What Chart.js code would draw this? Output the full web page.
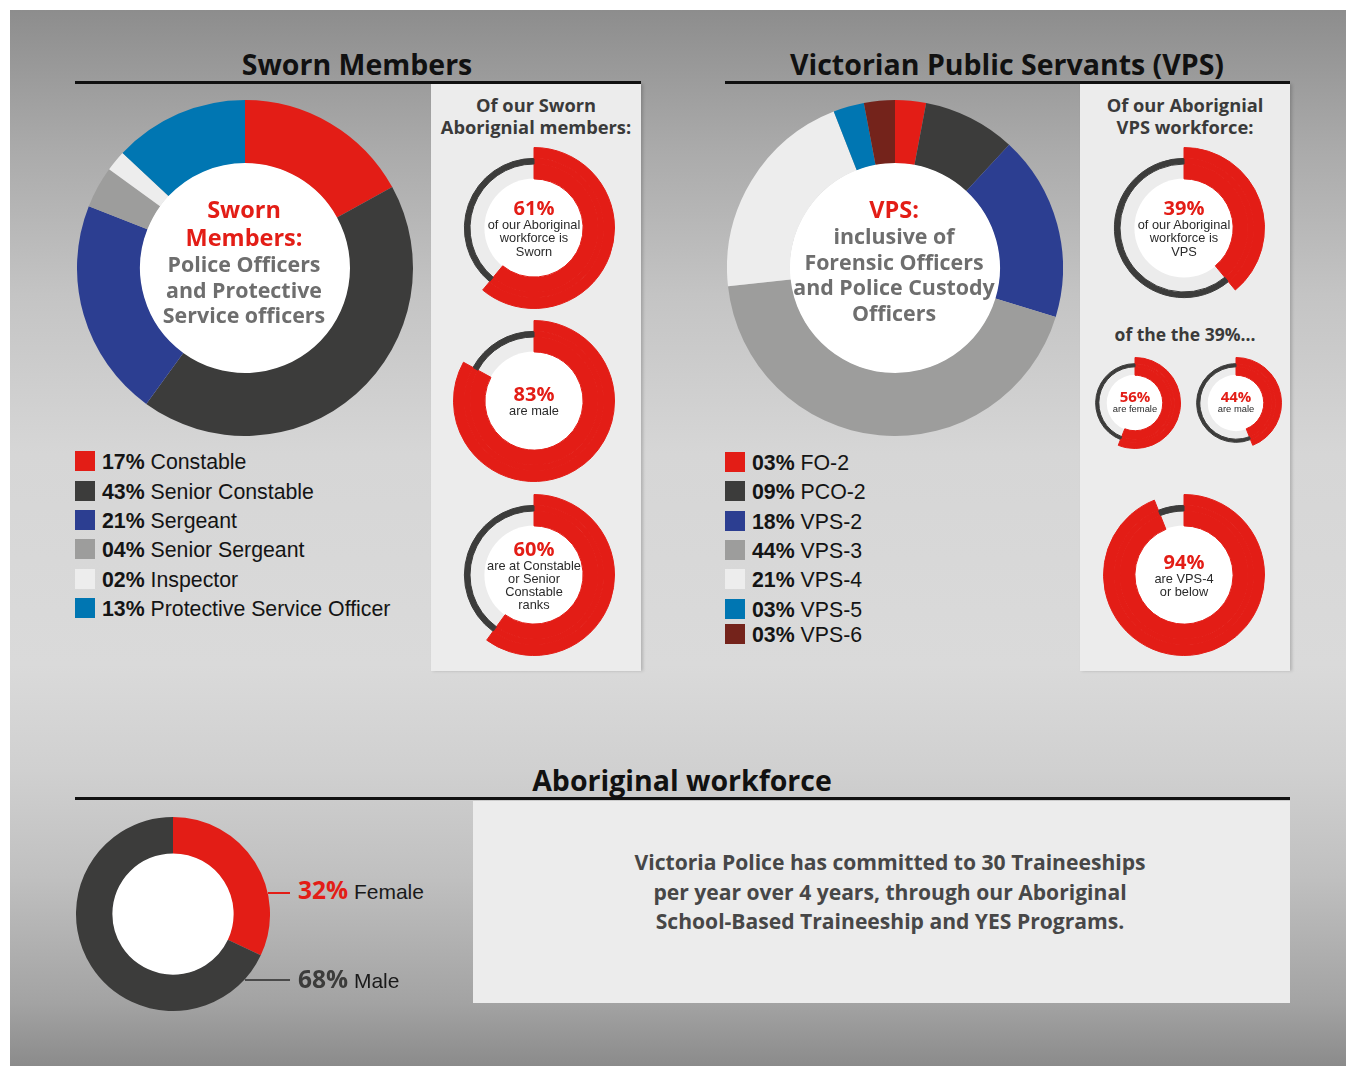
<!DOCTYPE html>
<html><head><meta charset="utf-8">
<script src="https://cdn.jsdelivr.net/npm/chart.js@4.4.1/dist/chart.umd.min.js"></script>
<style>
html,body{margin:0;padding:0;background:#fff;}
body{width:1346px;height:1066px;position:relative;overflow:hidden;font-family:"Liberation Sans",Arial,sans-serif;}
#bg{position:absolute;left:10px;top:10px;width:1336px;height:1056px;
 background:linear-gradient(to bottom,#8d8d8d 0%,#aaaaaa 13%,#c4c4c4 27%,#d6d6d6 42%,#dadada 62%,#d0d0d0 72%,#c0c0c0 82%,#a3a3a3 94%,#8b8b8b 100%);}
.title{position:absolute;font-family:"Open Sans";font-weight:700;font-size:28.5px;line-height:34px;color:#111;text-align:center;white-space:nowrap;}
.rule{position:absolute;height:3px;background:#111;}
.panel{position:absolute;background:#ececec;}
.side{box-shadow:2px 0 3px rgba(0,0,0,0.18);}
.phead{position:absolute;font-family:"Open Sans";font-weight:700;font-size:18.3px;line-height:22px;color:#3a3a3a;text-align:center;white-space:nowrap;}
canvas{position:absolute;}
.center{position:absolute;text-align:center;white-space:nowrap;font-family:"Open Sans";font-weight:700;}
.center .r{color:#e31d16;font-size:23.5px;line-height:28px;}
.center .g{color:#6e6e6e;font-size:21.4px;line-height:25.6px;}
.ringtxt{position:absolute;display:flex;flex-direction:column;justify-content:center;align-items:center;white-space:nowrap;text-align:center;}
.ringtxt .p{font-family:"Open Sans";font-weight:700;color:#e31d16;}
.ringtxt .s{color:#2a2a2a;}
.sq{position:absolute;width:20px;height:20px;}
.lg{position:absolute;font-size:21.3px;line-height:26px;color:#141414;white-space:nowrap;}
.lg b{font-weight:700;}
.note{position:absolute;font-family:"Open Sans";font-weight:700;font-size:21.1px;line-height:29.5px;color:#474747;text-align:center;white-space:nowrap;}
.glab{position:absolute;white-space:nowrap;font-size:21px;line-height:28px;color:#1a1a1a;}
.glab .p{font-family:"Open Sans";font-weight:700;font-size:24.5px;}
.lead{position:absolute;height:2px;}
</style>
</head>
<body>
<div id="bg"></div>
<script>
// ---------------- data ----------------
const swornCategories = ['Constable','Senior Constable','Sergeant','Senior Sergeant','Inspector','Protective Service Officer'];
const swornValues = [17, 43, 21, 4, 2, 13];
const vpsCategories = ['FO-2','PCO-2','VPS-2','VPS-3','VPS-4','VPS-5','VPS-6'];
const vpsValues = [3, 9, 18, 44, 21, 3, 3];
const genderCategories = ['Female','Male'];
const genderValues = [32, 68];
const swornAboriginalValues = [61, 83, 60];
const swornAboriginalNotes = [['of our Aboriginal','workforce is','Sworn'],['are male'],['are at Constable','or Senior','Constable','ranks']];
const vpsAboriginalValues = [39, 56, 44, 94];
const vpsAboriginalNotes = [['of our Aboriginal','workforce is','VPS'],['are female'],['are male'],['are VPS-4','or below']];

// ---------------- styles ----------------
const RED='#e31d16', DARK='#3c3c3b', BLUE='#2c3e91', GREY='#9d9d9c', LIGHT='#ededed', TEAL='#0076b2', MAROON='#74231b';
const swornColors = [RED, DARK, BLUE, GREY, LIGHT, TEAL];
const vpsColors = [RED, DARK, BLUE, GREY, LIGHT, TEAL, MAROON];
const genderColors = [RED, DARK];

// ---------------- helpers ----------------
function el(tag, cls, css, html){
  const e=document.createElement(tag);
  if(cls) e.className=cls;
  Object.assign(e.style, css||{});
  if(html!==undefined) e.innerHTML=html;
  document.body.appendChild(e);
  return e;
}
const px=v=>v+'px';
function canvasAt(cx, cy, r){
  const c=document.createElement('canvas');
  c.width=2*r; c.height=2*r;
  c.style.left=px(cx-r); c.style.top=px(cy-r);
  c.style.width=px(2*r); c.style.height=px(2*r);
  document.body.appendChild(c);
  return c;
}
const whiteHole={
  id:'whiteHole',
  beforeDatasetsDraw(chart){
    const n=chart.data.datasets.length;
    const arc=chart.getDatasetMeta(n-1).data[0];
    if(!arc) return;
    const ctx=chart.ctx;
    ctx.save();
    ctx.beginPath();
    ctx.arc(arc.x, arc.y, arc.innerRadius+0.5, 0, Math.PI*2);
    ctx.fillStyle='#ffffff';
    ctx.fill();
    ctx.restore();
  }
};
const baseOpts=(cutout)=>({
  responsive:false, animation:false, events:[], cutout:cutout,
  layout:{padding:0},
  plugins:{legend:{display:false}, tooltip:{enabled:false}}
});
function donut(canvas, labels, values, colors, cutout){
  return new Chart(canvas,{
    type:'doughnut',
    data:{labels:labels, datasets:[{data:values, backgroundColor:colors, borderWidth:0, hoverOffset:0, offset:0}]},
    options:baseOpts(cutout),
    plugins:[whiteHole]
  });
}
function ring(canvas, pct){
  const vals=[pct, 100-pct];
  const T='rgba(0,0,0,0)';
  const ds=(bg,w)=>({data:vals, backgroundColor:bg, borderColor:bg, borderWidth:1, hoverOffset:0, offset:0, weight:w});
  return new Chart(canvas,{
    type:'doughnut',
    data:{labels:['a','b'], datasets:[ds([RED,T],0.135), ds([RED,DARK],0.07), ds([RED,T],0.185)]},
    options:baseOpts('61%'),
    plugins:[whiteHole]
  });
}

// ---------------- layout ----------------
el('div','panel side',{left:'431px',top:'84px',width:'210px',height:'587px'});
el('div','panel side',{left:'1080px',top:'84px',width:'210px',height:'587px'});
el('div','panel',{left:'473px',top:'801px',width:'817px',height:'202px'});
el('div','rule',{left:'75px',top:'81px',width:'566px'});
el('div','rule',{left:'725px',top:'81px',width:'565px'});
el('div','rule',{left:'75px',top:'797px',width:'1215px'});
el('div','title',{left:'57px',top:'47px',width:'600px'},'Sworn Members');
el('div','title',{left:'707px',top:'47px',width:'600px'},'Victorian Public Servants (VPS)');
el('div','title',{left:'382px',top:'763px',width:'600px'},'Aboriginal workforce');

el('div','phead',{left:'436px',top:'94px',width:'200px'},'Of our Sworn<br>Aborignial members:');
el('div','phead',{left:'1085px',top:'94px',width:'200px'},'Of our Aborignial<br>VPS workforce:');
el('div','phead',{left:'1085px',top:'323px',width:'200px',fontSize:'17.5px'},'of the the 39%...');

// main donuts
donut(canvasAt(244.5,268,168), swornCategories, swornValues, swornColors, '62.5%');
donut(canvasAt(894.5,268,168), vpsCategories, vpsValues, vpsColors, '62.5%');
donut(canvasAt(173,914,97), genderCategories, genderValues, genderColors, '62.5%');

el('div','center',{left:'94px',top:'195px',width:'300px'},
  '<div class="r">Sworn</div><div class="r">Members:</div><div class="g">Police Officers</div><div class="g">and Protective</div><div class="g">Service officers</div>');
el('div','center',{left:'744px',top:'195px',width:'300px'},
  '<div class="r">VPS:</div><div class="g">inclusive of</div><div class="g">Forensic Officers</div><div class="g">and Police Custody</div><div class="g">Officers</div>');

// legends
const pad=v=>String(v).padStart(2,'0')+'%';
function legend(x, ys, cats, vals, colors){
  cats.forEach((c,i)=>{
    el('div','sq',{left:px(x),top:px(ys[i]-10),background:colors[i]});
    el('div','lg',{left:px(x+27),top:px(ys[i]-12.5)},'<b>'+pad(vals[i])+'</b> '+c);
  });
}
legend(75,[461,491,520,549,579,608], swornCategories, swornValues, swornColors);
legend(725,[462,491,521,550,579,609,634], vpsCategories, vpsValues, vpsColors);

// small rings
function ringWithText(cx, cy, r, pct, notes, big){
  ring(canvasAt(cx,cy,r), pct);
  const pSize=big?20:15, pLh=big?20:15, sSize=big?12.8:9.4, sLh=big?13.2:10;
  const lines=notes.map(t=>'<div class="s" style="font-size:'+sSize+'px;line-height:'+sLh+'px">'+t+'</div>').join('');
  el('div','ringtxt',{left:px(cx-70),top:px(cy-r-(big?0:1.5)),width:'140px',height:px(2*r)},
    '<div class="p" style="font-size:'+pSize+'px;line-height:'+pLh+'px">'+pct+'%</div>'+lines);
}
const swornRingPos=[[534,228],[534,401],[534,575]];
swornAboriginalValues.forEach((v,i)=>ringWithText(swornRingPos[i][0],swornRingPos[i][1],81,v,swornAboriginalNotes[i],true));
const vpsRingPos=[[1184,228,81,true],[1135,403,46,false],[1236,403,46,false],[1184,575,81,true]];
vpsAboriginalValues.forEach((v,i)=>{const p=vpsRingPos[i]; ringWithText(p[0],p[1],p[2],v,vpsAboriginalNotes[i],p[3]);});

// gender labels
el('div','lead',{left:'268px',top:'892px',width:'22px',background:RED});
el('div','lead',{left:'245px',top:'979px',width:'45px',background:'#4a4a4a'});
el('div','glab',{left:'298px',top:'876px'},'<span class="p" style="color:'+RED+'">'+genderValues[0]+'%</span> '+genderCategories[0]);
el('div','glab',{left:'298px',top:'965px'},'<span class="p" style="color:'+DARK+'">'+genderValues[1]+'%</span> '+genderCategories[1]);

// note
el('div','note',{left:'590px',top:'847px',width:'600px'},
  'Victoria Police has committed to 30 Traineeships<br>per year over 4 years, through our Aboriginal<br>School-Based Traineeship and YES Programs.');
</script>
</body></html>
